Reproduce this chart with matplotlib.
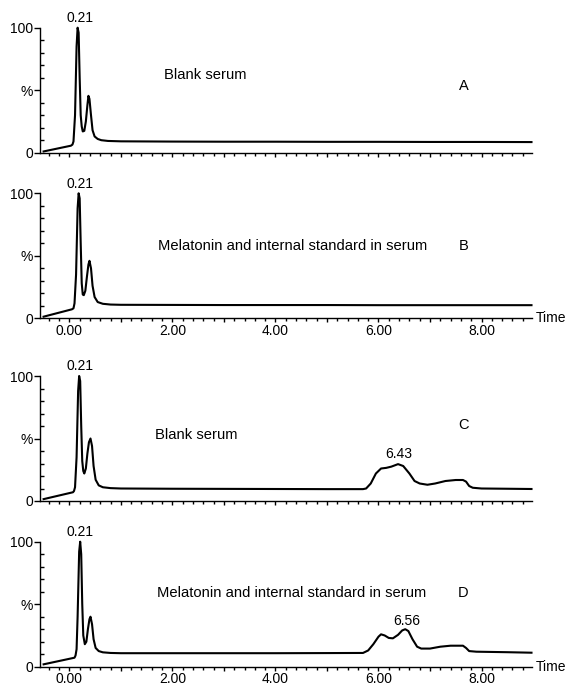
import matplotlib
matplotlib.use("Agg")
import matplotlib.pyplot as plt
from matplotlib.ticker import MultipleLocator, FixedLocator

plt.rcParams['font.family'] = ['Liberation Sans', 'DejaVu Sans']

# ---- data (time in min, relative intensity %) ----
t_a = [-0.50, 0.03, 0.06, 0.08, 0.11, 0.14, 0.16, 0.18, 0.20, 0.22, 0.24, 0.26, 0.29,
       0.32, 0.35, 0.37, 0.39, 0.42, 0.45, 0.49, 0.55, 0.62, 0.75, 1.0, 1.5, 2.0, 3.0,
       4.0, 5.0, 6.0, 7.0, 8.0, 8.97]
y_a = [1.0, 5.6, 6.5, 9.0, 30.0, 85.0, 100.0, 96.0, 60.0, 30.0, 21.0, 17.0, 17.5,
       25.0, 38.0, 45.5, 43.0, 30.0, 18.0, 13.0, 11.0, 10.0, 9.4, 9.1, 9.0, 8.9, 8.8,
       8.8, 8.7, 8.7, 8.6, 8.6, 8.5]

t_b = [-0.50, 0.05, 0.08, 0.10, 0.13, 0.16, 0.18, 0.20, 0.22, 0.24, 0.26, 0.28, 0.31,
       0.34, 0.37, 0.39, 0.42, 0.45, 0.49, 0.55, 0.65, 0.80, 1.0, 2.0, 3.0, 4.0, 5.0,
       6.0, 7.0, 8.0, 8.97]
y_b = [1.3, 7.2, 8.0, 12.0, 35.0, 88.0, 100.0, 96.0, 60.0, 28.0, 19.0, 18.5, 22.0,
       33.0, 43.0, 46.0, 40.0, 26.0, 17.0, 13.0, 11.6, 11.0, 10.8, 10.7, 10.6, 10.6,
       10.6, 10.5, 10.5, 10.5, 10.5]

t_c = [-0.50, 0.07, 0.09, 0.11, 0.14, 0.17, 0.19, 0.21, 0.23, 0.25, 0.27, 0.29, 0.32,
       0.35, 0.38, 0.41, 0.44, 0.47, 0.51, 0.57, 0.65, 0.80, 1.0, 2.0, 3.0, 4.0, 5.0,
       5.70, 5.76, 5.85, 5.95, 6.05, 6.15, 6.25, 6.38, 6.48, 6.60, 6.70, 6.80, 6.95,
       7.10, 7.30, 7.50, 7.64, 7.70, 7.76, 7.83, 8.00, 8.50, 8.97]
y_c = [1.5, 7.0, 8.0, 11.0, 35.0, 88.0, 100.0, 96.0, 60.0, 32.0, 24.0, 22.0, 26.0,
       38.0, 47.0, 50.0, 44.0, 28.0, 17.0, 12.5, 11.0, 10.3, 10.0, 9.8, 9.7, 9.6, 9.5,
       9.5, 10.0, 14.0, 22.0, 26.0, 26.5, 27.5, 29.5, 28.0, 22.0, 16.0, 14.0, 13.0,
       14.0, 16.0, 16.8, 16.8, 15.5, 12.0, 10.6, 10.0, 9.8, 9.6]

t_d = [-0.50, 0.10, 0.12, 0.14, 0.16, 0.19, 0.21, 0.23, 0.25, 0.27, 0.30, 0.33, 0.36,
       0.39, 0.41, 0.44, 0.47, 0.51, 0.57, 0.65, 0.80, 1.0, 2.0, 3.0, 4.0, 5.0, 5.70,
       5.80, 5.90, 6.00, 6.05, 6.12, 6.20, 6.28, 6.38, 6.46, 6.52, 6.58, 6.66, 6.75,
       6.83, 7.00, 7.20, 7.40, 7.64, 7.70, 7.76, 7.90, 8.50, 8.97]
y_d = [1.9, 7.2, 9.0, 14.0, 40.0, 92.0, 100.0, 90.0, 50.0, 25.0, 18.0, 20.0, 30.0,
       38.0, 40.0, 34.0, 22.0, 15.0, 12.5, 11.5, 11.0, 10.8, 10.8, 10.8, 10.8, 10.9,
       11.0, 13.0, 18.0, 24.0, 25.9, 25.0, 23.0, 22.7, 25.5, 29.0, 30.0, 28.5, 22.0,
       16.0, 14.5, 14.5, 16.0, 16.8, 16.8, 15.0, 12.5, 12.0, 11.6, 11.2]

panels = [
    dict(t=t_a, y=y_a, label="Blank serum", letter="A", peak_t=0.21,
         peak_lbl="0.21", extra=None, ticklabels=False,
         bottom_px=152.7, text_xy=(1.83, 62), letter_y=53),
    dict(t=t_b, y=y_b, label="Melatonin and internal standard in serum", letter="B",
         peak_t=0.21, peak_lbl="0.21", extra=None, ticklabels=True,
         bottom_px=318.3, text_xy=(1.73, 58), letter_y=58),
    dict(t=t_c, y=y_c, label="Blank serum", letter="C", peak_t=0.21,
         peak_lbl="0.21", extra=(6.38, "6.43", 32), ticklabels=False,
         bottom_px=501.0, text_xy=(1.67, 53), letter_y=61),
    dict(t=t_d, y=y_d, label="Melatonin and internal standard in serum", letter="D",
         peak_t=0.21, peak_lbl="0.21", extra=(6.52, "6.56", 31), ticklabels=True,
         bottom_px=666.7, text_xy=(1.71, 59), letter_y=59),
]

W, H = 568, 685
fig = plt.figure(figsize=(W / 100, H / 100), dpi=100)
FS = 10

for p in panels:
    ax = fig.add_axes([40 / W, 1 - p["bottom_px"] / H, 492 / W, 125 / H])
    ax.plot(p["t"], p["y"], color="black", lw=1.5, clip_on=False,
            solid_joinstyle="round")
    ax.set_xlim(-0.57, 8.98)
    ax.set_ylim(0, 100)
    for s in ("top", "right"):
        ax.spines[s].set_visible(False)
    for s in ("left", "bottom"):
        ax.spines[s].set_linewidth(1.0)

    ax.yaxis.set_major_locator(FixedLocator([0, 50, 100]))
    ax.set_yticklabels(["0", "%", "100"], fontsize=FS)
    ax.yaxis.set_minor_locator(MultipleLocator(10))
    ax.tick_params(axis="y", which="major", direction="out", length=4, width=1, pad=1)
    ax.tick_params(axis="y", which="minor", direction="in", length=3, width=1)

    ax.xaxis.set_major_locator(FixedLocator([0, 1, 2, 3, 4, 5, 6, 7, 8]))
    ax.xaxis.set_minor_locator(MultipleLocator(0.2))
    if p["ticklabels"]:
        ax.set_xticklabels(["0.00", "", "2.00", "", "4.00", "", "6.00", "", "8.00"],
                           fontsize=FS)
        ax.text(9.06, 0, "Time", fontsize=FS, ha="left", va="center", clip_on=False)
    else:
        ax.set_xticklabels([])
    ax.tick_params(axis="x", which="major", direction="out", length=3, width=1, pad=1)
    ax.tick_params(axis="x", which="minor", direction="out", length=2, width=1)

    ax.text(p["peak_t"], 102, p["peak_lbl"], fontsize=FS, ha="center", va="bottom",
            clip_on=False)
    if p["extra"] is not None:
        et, el, ey = p["extra"]
        ax.text(et + 0.02, ey, el, fontsize=FS, ha="center", va="bottom")
    tx, ty = p["text_xy"]
    ax.text(tx, ty, p["label"], fontsize=10.6, ha="left", va="center")
    ax.text(7.65, p["letter_y"], p["letter"], fontsize=FS + 0.5, ha="center",
            va="center")

fig.savefig("out.png", dpi=100)
